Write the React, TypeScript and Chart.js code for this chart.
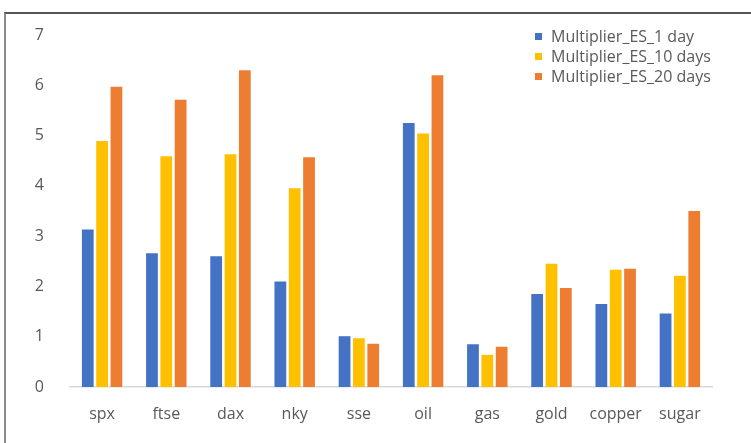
import React, { useEffect, useRef } from "react";
import { Chart, registerables } from "chart.js";

Chart.register(...registerables);

const categories = ["spx", "ftse", "dax", "nky", "sse", "oil", "gas", "gold", "copper", "sugar"];
const es1Day = [3.13, 2.66, 2.6, 2.1, 1.01, 5.25, 0.85, 1.85, 1.65, 1.46];
const es10Days = [4.89, 4.59, 4.63, 3.95, 0.97, 5.04, 0.64, 2.45, 2.33, 2.21];
const es20Days = [5.97, 5.71, 6.3, 4.57, 0.86, 6.2, 0.8, 1.97, 2.35, 3.5];
const seriesLabels = ["Multiplier_ES_1 day", "Multiplier_ES_10 days", "Multiplier_ES_20 days"];
const yTicks = [0, 1, 2, 3, 4, 5, 6, 7];

const FONT = "'Open Sans', 'Noto Sans', sans-serif";
const TEXT = "#595959";

const legendPlugin = {
  id: "cornerLegend",
  afterDraw(chart: any) {
    const ctx = chart.ctx;
    ctx.save();
    ctx.font = `16px ${FONT}`;
    ctx.textBaseline = "middle";
    ctx.textAlign = "left";
    chart.data.datasets.forEach((ds: any, i: number) => {
      const y = 37 + i * 20;
      ctx.fillStyle = ds.backgroundColor;
      ctx.fillRect(535, y - 4, 7, 7);
      ctx.fillStyle = TEXT;
      ctx.fillText(ds.label, 551, y);
    });
    ctx.restore();
  },
};

export default function App() {
  const ref = useRef<HTMLCanvasElement>(null);
  useEffect(() => {
    const chart = new Chart(ref.current!, {
      type: "bar",
      data: {
        labels: categories,
        datasets: [
          { label: seriesLabels[0], data: es1Day, backgroundColor: "#4472C4" },
          { label: seriesLabels[1], data: es10Days, backgroundColor: "#FFC000" },
          { label: seriesLabels[2], data: es20Days, backgroundColor: "#ED7D31" },
        ],
      },
      options: {
        responsive: false,
        animation: false,
        layout: { padding: { left: 30, right: 39, top: 35, bottom: 14 } },
        datasets: { bar: { categoryPercentage: 0.67, barPercentage: 0.82 } } as any,
        plugins: { legend: { display: false }, tooltip: { enabled: false } },
        scales: {
          x: {
            grid: { display: false },
            border: { display: true, color: "#d9d9d9", width: 1.5 },
            ticks: { color: TEXT, font: { family: FONT, size: 16 }, padding: 10 },
            afterFit: (s: any) => { s.height = 42; },
          },
          y: {
            min: 0,
            max: 7,
            afterBuildTicks: (s: any) => { s.ticks = yTicks.map((v) => ({ value: v })); },
            grid: { display: false },
            border: { display: false },
            ticks: { color: TEXT, font: { family: FONT, size: 16 }, padding: 18 },
            afterFit: (s: any) => { s.width = 40; },
          },
        },
      },
      plugins: [legendPlugin],
    });
    return () => chart.destroy();
  }, []);
  return (
    <div style={{ position: "fixed", left: 0, top: 0, width: 751, height: 443, background: "#fff" }}>
      <canvas ref={ref} width={751} height={443} style={{ position: "absolute", left: 0, top: 0 }} />
      <div style={{ position: "absolute", left: 4, top: 12, right: 0, bottom: 0, borderTop: "2px solid #555", borderLeft: "2px solid #8a8a8a", pointerEvents: "none" }} />
    </div>
  );
}
